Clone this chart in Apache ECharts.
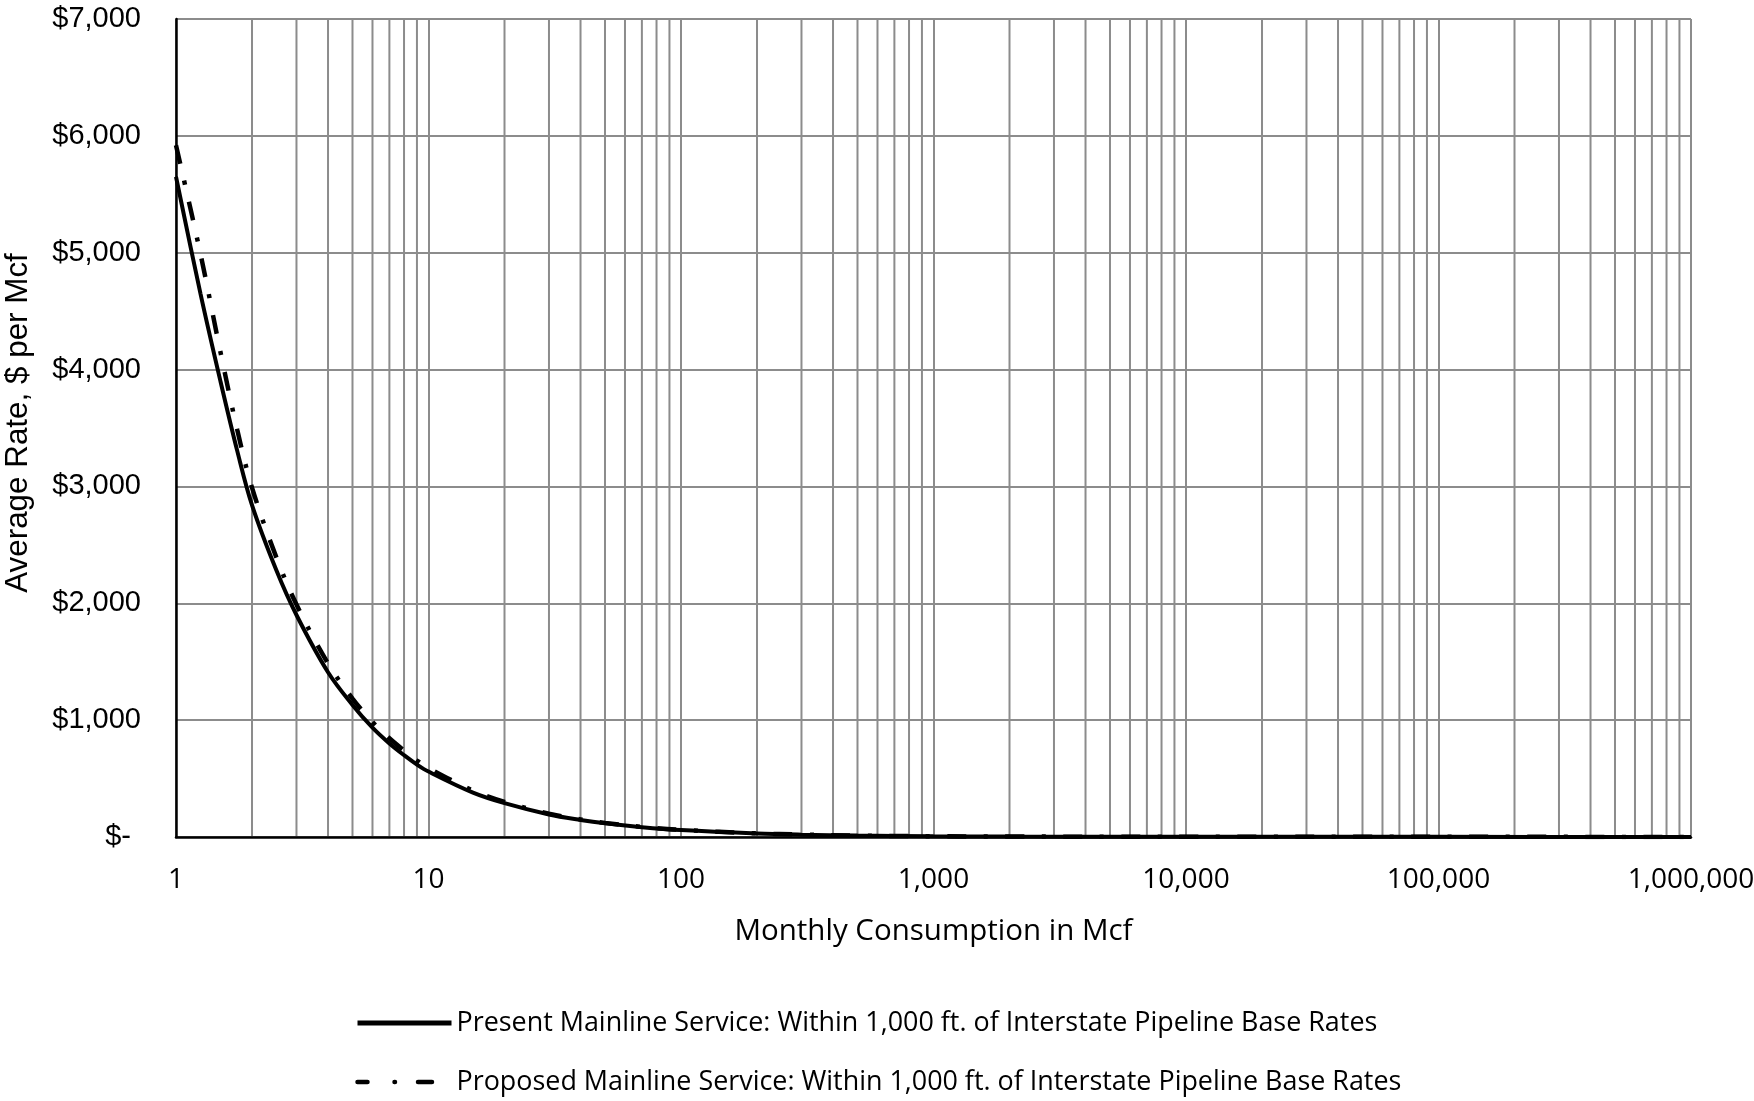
<!DOCTYPE html>
<html><head><meta charset="utf-8">
<script src="https://cdn.jsdelivr.net/npm/echarts@6/dist/echarts.min.js"></script>
<style>html,body{margin:0;padding:0;background:#fff}#c{width:1754px;height:1101px}</style>
</head><body><div id="c"></div>
<script>
// Monthly consumption (Mcf) sample points
const consumption = [1, 1.25, 1.5, 1.75, 2, 2.5, 3, 4, 5, 6, 7, 8, 9, 10, 15, 20, 30, 40, 50, 70, 100, 200, 300, 500, 1000, 2000, 5000, 10000, 100000, 1000000];
// Average rate, $ per Mcf
const presentRates = [5650, 4650, 3900, 3300, 2840, 2280, 1900, 1410, 1130, 935, 800, 700, 620, 560, 380, 290, 193, 146, 117, 84, 59, 30, 20, 12, 6.5, 3.8, 2.2, 1.6, 1.1, 1.0];
const proposedRates = [5920, 4990, 4150, 3480, 2990, 2390, 1990, 1485, 1185, 985, 845, 740, 655, 590, 398, 300, 200, 151, 121, 87, 61, 31, 21, 12.5, 6.8, 4, 2.3, 1.7, 1.15, 1.05];

const presentName = 'Present Mainline Service: Within 1,000 ft. of Interstate Pipeline Base Rates';
const proposedName = 'Proposed Mainline Service: Within 1,000 ft. of Interstate Pipeline Base Rates';
const xTitle = 'Monthly Consumption in Mcf';
const yTitle = 'Average Rate, $ per Mcf';

// minor (2..9) gridlines of each decade on the log axis
const gridDecades = [1, 10, 100, 1000, 10000, 100000];
const gridMultipliers = [2, 3, 4, 5, 6, 7, 8, 9];

const yMin = 0, yMax = 7000, yStep = 1000;
const xMin = 1, xMax = 1000000;

const minorGrid = [];
gridDecades.forEach(d => gridMultipliers.forEach(m => minorGrid.push([d * m, yMin])));

const presentData = consumption.map((x, i) => [x, presentRates[i]]);
const proposedData = consumption.map((x, i) => [x, proposedRates[i]]);

const GRID = '#8c8c8c';
const aptos = '"Open Sans", "Noto Sans", sans-serif';
const arial = '"Liberation Sans", Arial, sans-serif';
const proposedDash = [19, 17.5, 4, 17.5];
const legendDash = [10, 27, 0.5, 23, 14, 100];

const chart = echarts.init(document.getElementById('c'), null, {renderer: 'canvas'});
chart.setOption({
  animation: false,
  backgroundColor: '#fff',
  grid: {left: 176, right: 63, top: 19, bottom: 264, containLabel: false, outerBoundsMode: 'none'},
  legend: {
    data: [
      {name: presentName},
      {name: proposedName, lineStyle: {type: legendDash, width: 4.5, cap: 'round'}}
    ],
    orient: 'vertical',
    left: 355,
    top: 1009,
    itemWidth: 94,
    itemHeight: 14,
    itemGap: 31,
    padding: 0,
    itemStyle: {color: 'transparent', borderWidth: 0, opacity: 0},
    lineStyle: {width: 5},
    textStyle: {fontFamily: aptos, fontSize: 26.9, color: '#000', lineHeight: 28}
  },
  xAxis: {
    type: 'log',
    logBase: 10,
    min: xMin,
    max: xMax,
    splitNumber: 6,
    name: xTitle,
    nameLocation: 'middle',
    nameGap: 80,
    nameTextStyle: {fontFamily: aptos, fontSize: 29.5, color: '#000'},
    axisLine: {show: true, lineStyle: {color: '#000', width: 2.5}},
    axisTick: {show: false},
    axisLabel: {
      fontFamily: aptos, fontSize: 28, color: '#000', margin: 29,
      formatter: v => Math.round(v).toLocaleString('en-US')
    },
    splitLine: {show: true, lineStyle: {color: GRID, width: 2}}
  },
  yAxis: {
    type: 'value',
    min: yMin,
    max: yMax,
    interval: yStep,
    name: yTitle,
    nameLocation: 'middle',
    nameGap: 142,
    nameRotate: 90,
    nameTextStyle: {fontFamily: arial, fontSize: 31.4, color: '#000', padding: [0, 0, 0, 10]},
    axisLine: {show: true, lineStyle: {color: '#000', width: 2.5}},
    axisTick: {show: false},
    axisLabel: {
      fontFamily: arial, fontSize: 29, color: '#000', margin: 35,
      formatter: v => v === 0 ? '{d|$-}' : '$' + v.toLocaleString('en-US'),
      rich: {d: {fontFamily: arial, fontSize: 29, color: '#000', padding: [0, 10, 0, 0]}}
    },
    splitLine: {show: true, lineStyle: {color: GRID, width: 2}}
  },
  series: [
    {
      name: 'minor-grid',
      type: 'custom',
      z: -1,
      silent: true,
      data: minorGrid,
      encode: {x: 0, y: 1},
      renderItem: (params, api) => {
        const x = api.value(0);
        const p0 = api.coord([x, yMin]);
        const p1 = api.coord([x, yMax]);
        return {type: 'line', shape: {x1: p0[0], y1: p0[1], x2: p1[0], y2: p1[1]},
                style: {stroke: GRID, lineWidth: 2}};
      }
    },
    {
      name: presentName,
      type: 'line',
      data: presentData,
      smooth: 0.35,
      showSymbol: false,
      symbol: 'none',
      lineStyle: {color: '#000', width: 4},
      itemStyle: {color: '#000'},
      z: 3
    },
    {
      name: proposedName,
      type: 'line',
      data: proposedData,
      smooth: 0.35,
      showSymbol: false,
      symbol: 'none',
      lineStyle: {color: '#000', width: 4.5, type: proposedDash, cap: 'butt'},
      itemStyle: {color: '#000'},
      z: 4
    }
  ]
});
</script></body></html>
